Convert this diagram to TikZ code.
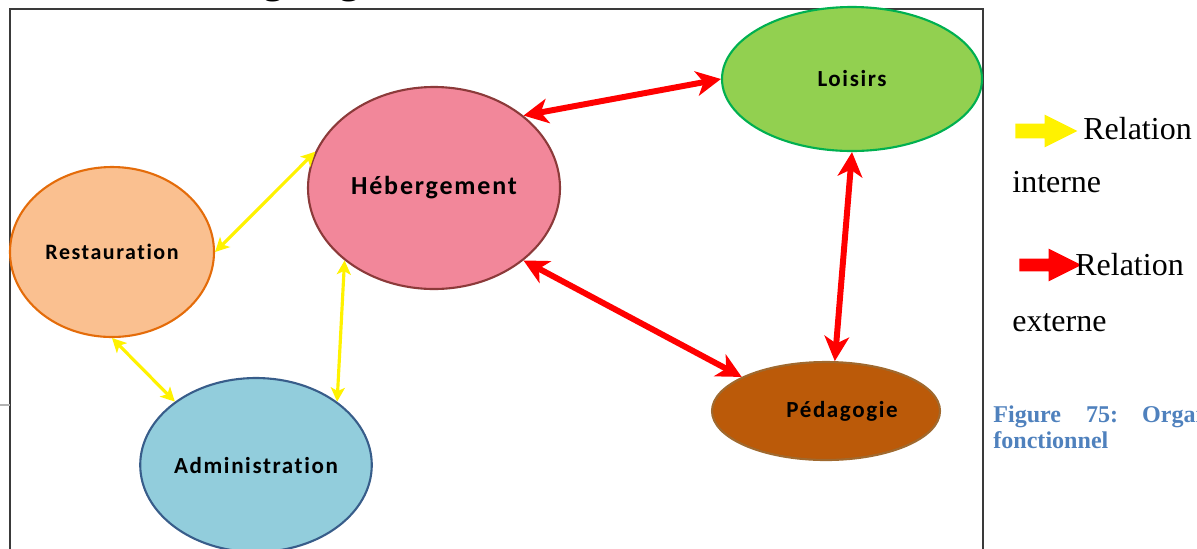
\documentclass[tikz,border=0pt]{standalone}
\usepackage{fontspec}
\setmainfont{Liberation Serif}
\newfontfamily\calib[LetterSpace=7, Ligatures=NoCommon]{Carlito}
\usepackage{tikz}
\usetikzlibrary{
  shapes.geometric, shapes.arrows, arrows.meta
}
\definecolor{loisFill}{HTML}{92D050}
\definecolor{loisDraw}{HTML}{00B050}
\definecolor{hebFill}{HTML}{F2879A}
\definecolor{hebDraw}{HTML}{8C3A3A}
\definecolor{restFill}{HTML}{FAC090}
\definecolor{restDraw}{HTML}{E46C0A}
\definecolor{adminFill}{HTML}{92CDDC}
\definecolor{adminDraw}{HTML}{385D8A}
\definecolor{pedFill}{HTML}{BB5A09}
\definecolor{pedDraw}{HTML}{A0692E}
\definecolor{capBlue}{HTML}{4F81BD}
\definecolor{frameGray}{HTML}{3A3A3A}
\tikzstyle{pole} = [
  ellipse, line width=1.2pt, inner sep=0pt,
  font=\calib\bfseries\fontsize{13.1}{15}\selectfont
]
\tikzstyle{externe} = [
  {Stealth[length=14pt,width=14pt,inset=4pt]}-{Stealth[length=14pt,width=14pt,inset=4pt]},
  line width=3.4pt, red
]
\tikzstyle{interne} = [
  {Stealth[length=8pt,width=8pt,inset=2pt]}-{Stealth[length=8pt,width=8pt,inset=2pt]},
  line width=1.8pt, yellow
]
\tikzstyle{legarrow} = [
  single arrow, inner xsep=0pt, minimum height=1.24cm,
  single arrow tip angle=53
]

\begin{document}
\begin{tikzpicture}
  \useasboundingbox (0,0) rectangle (23.94,-10.96);

  % Frame and title
  \draw[line width=1.2pt, frameGray] (0.2,-0.18) rectangle (19.66,-11.5);
  \draw[line width=0.8pt, gray!60] (0,-8.1) -- (0.2,-8.1);
  \node[anchor=base west, font=\fontsize{25}{30}\selectfont] (title) at (4.22,0.16) {Organigramme};

  % Poles
  \node[pole, fill=loisFill, draw=loisDraw, minimum width=5.2cm, minimum height=2.88cm] (lois) at (17.04,-1.58) {Loisirs};
  \node[pole, fill=hebFill, draw=hebDraw, minimum width=5.04cm, minimum height=4.04cm,
        font=\calib\bfseries\fontsize{14.8}{17}\selectfont] (heb) at (8.68,-3.76) {Hébergement};
  \node[pole, fill=restFill, draw=restDraw, minimum width=4.08cm, minimum height=3.4cm,
        font=\calib\bfseries\fontsize{12.5}{15}\selectfont] (rest) at (2.24,-5.04) {Restauration};
  \node[pole, fill=adminFill, draw=adminDraw, minimum width=4.48cm, minimum height=3.48cm] (admin) at (5.12,-9.30) {Administration};
  \node[pole, fill=pedFill, draw=pedDraw, minimum width=4.56cm, minimum height=1.96cm] (ped) at (16.52,-8.22) {\hspace*{0.64cm}Pédagogie};

  % External relations
  \draw[externe] (heb.39) -- (lois.west);
  \draw[externe] (heb.-39) -- (ped.158);
  \draw[externe] (lois.south) -- (ped.80);

  % Internal relations
  \draw[interne] (rest.east) -- (heb.163);
  \draw[interne] (heb.219) -- (admin.38);
  \draw[interne] (rest.south) -- (admin.142);

  % Legend
  \node[legarrow, fill=yellow, inner ysep=0.14cm, single arrow head extend=0.18cm] (legint) at (20.78,-2.62) {};
  \node[legarrow, fill=red, inner ysep=0.12cm, single arrow head extend=0.2cm] (legext) at (20.88,-5.30) {};
  \node[anchor=base west, font=\fontsize{18.2}{22}\selectfont, inner sep=0pt] (relA) at (21.66,-2.78) {Relation};
  \node[anchor=base west, font=\fontsize{18.2}{22}\selectfont, inner sep=0pt] (intA) at (20.24,-3.84) {interne};
  \node[anchor=base west, font=\fontsize{18.2}{22}\selectfont, inner sep=0pt] (relB) at (21.50,-5.50) {Relation};
  \node[anchor=base west, font=\fontsize{18.2}{22}\selectfont, inner sep=0pt] (extB) at (20.24,-6.62) {externe};

  % Caption
  \node[anchor=base west, inner sep=0pt, text=capBlue, font=\bfseries\fontsize{13.7}{16}\selectfont] (capA) at (19.86,-8.44)
    {Figure\hspace{0.5cm}75:\hspace{0.48cm}Organigramme};
  \node[anchor=base west, inner sep=0pt, text=capBlue, font=\bfseries\fontsize{13.7}{16}\selectfont] (capB) at (19.86,-8.96) {fonctionnel};
\end{tikzpicture}
\end{document}
